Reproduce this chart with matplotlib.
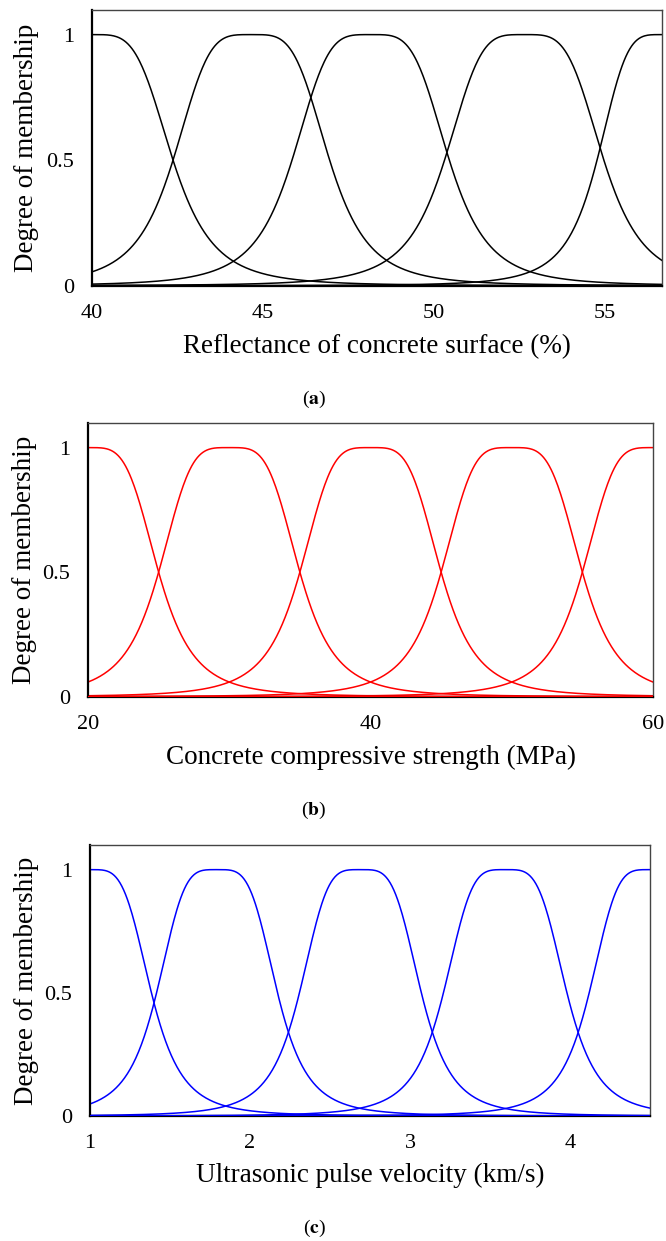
import matplotlib.pyplot as plt
import numpy as np

plt.rcParams['font.family'] = ['Liberation Serif', 'DejaVu Serif']
plt.rcParams['mathtext.fontset'] = 'stix'

# generalized bell membership functions: centre, width, slope
refl_centers = [40.0, 44.66, 48.15, 52.64, 56.67]
refl_widths = [2.37, 2.29, 2.30, 2.33, 1.90]
refl_slopes = [2, 2, 2, 2, 2]

fc_centers = [20, 30, 40, 50, 60]
fc_widths = [5, 5, 5, 5, 5]
fc_slopes = [2, 2, 2, 2, 2]

upv_centers = [1.0, 1.794, 2.69, 3.595, 4.5]
upv_widths = [0.384, 0.378, 0.381, 0.386, 0.38]
upv_slopes = [2, 2, 2, 2, 2]

panels = [
    dict(centers=refl_centers, widths=refl_widths, slopes=refl_slopes,
         xlim=(40, 56.67), xticks=[40, 45, 50, 55], color='black',
         xlabel='Reflectance of concrete surface (%)', tag='a',
         box=(92, 662, 9.5, 285.7), ylab_x=27, xlab_y=347, cap_y=399),
    dict(centers=fc_centers, widths=fc_widths, slopes=fc_slopes,
         xlim=(20, 60), xticks=[20, 40, 60], color='red',
         xlabel='Concrete compressive strength (MPa)', tag='b',
         box=(88, 653, 422.7, 696.7), ylab_x=25, xlab_y=757, cap_y=810),
    dict(centers=upv_centers, widths=upv_widths, slopes=upv_slopes,
         xlim=(1, 4.5), xticks=[1, 2, 3, 4], color='blue',
         xlabel='Ultrasonic pulse velocity (km/s)', tag='c',
         box=(90, 650, 845, 1116), ylab_x=27, xlab_y=1175, cap_y=1228),
]

W, H = 666, 1241
fig = plt.figure(figsize=(W / 100, H / 100), dpi=100)

for p in panels:
    L, R, T, B = p['box']
    ax = fig.add_axes([L / W, 1 - B / H, (R - L) / W, (B - T) / H])
    x = np.linspace(p['xlim'][0], p['xlim'][1], 600)
    for c, a, b in zip(p['centers'], p['widths'], p['slopes']):
        y = 1.0 / (1.0 + np.abs((x - c) / a) ** (2 * b))
        ax.plot(x, y, color=p['color'], lw=1.1)
    ax.axhline(0, color=p['color'], lw=2.2, zorder=3)

    ax.set_xlim(*p['xlim'])
    ax.set_ylim(0, 1.1)
    ax.set_xticks(p['xticks'])
    ax.set_yticks([0, 0.5, 1])
    ax.set_yticklabels(['0', '0.5', '1'])
    ax.tick_params(length=0, labelsize=16, pad=13)

    for s in ['left', 'bottom']:
        ax.spines[s].set_linewidth(1.6)
        ax.spines[s].set_color('black')
    for s in ['top', 'right']:
        ax.spines[s].set_linewidth(1.0)
        ax.spines[s].set_color('#444444')

    ax.set_ylabel('Degree of membership', fontsize=19.5, va='center')
    ax.yaxis.set_label_coords((p['ylab_x'] - L) / (R - L), 0.5)
    ax.set_xlabel(p['xlabel'], fontsize=19.5, va='center')
    ax.xaxis.set_label_coords(0.5, (B - p['xlab_y']) / (B - T))

    fig.text(314 / W, 1 - p['cap_y'] / H, r'($\mathbf{%s}$)' % p['tag'],
             fontsize=14, ha='center', va='center')

fig.savefig('out.png', dpi=100)
